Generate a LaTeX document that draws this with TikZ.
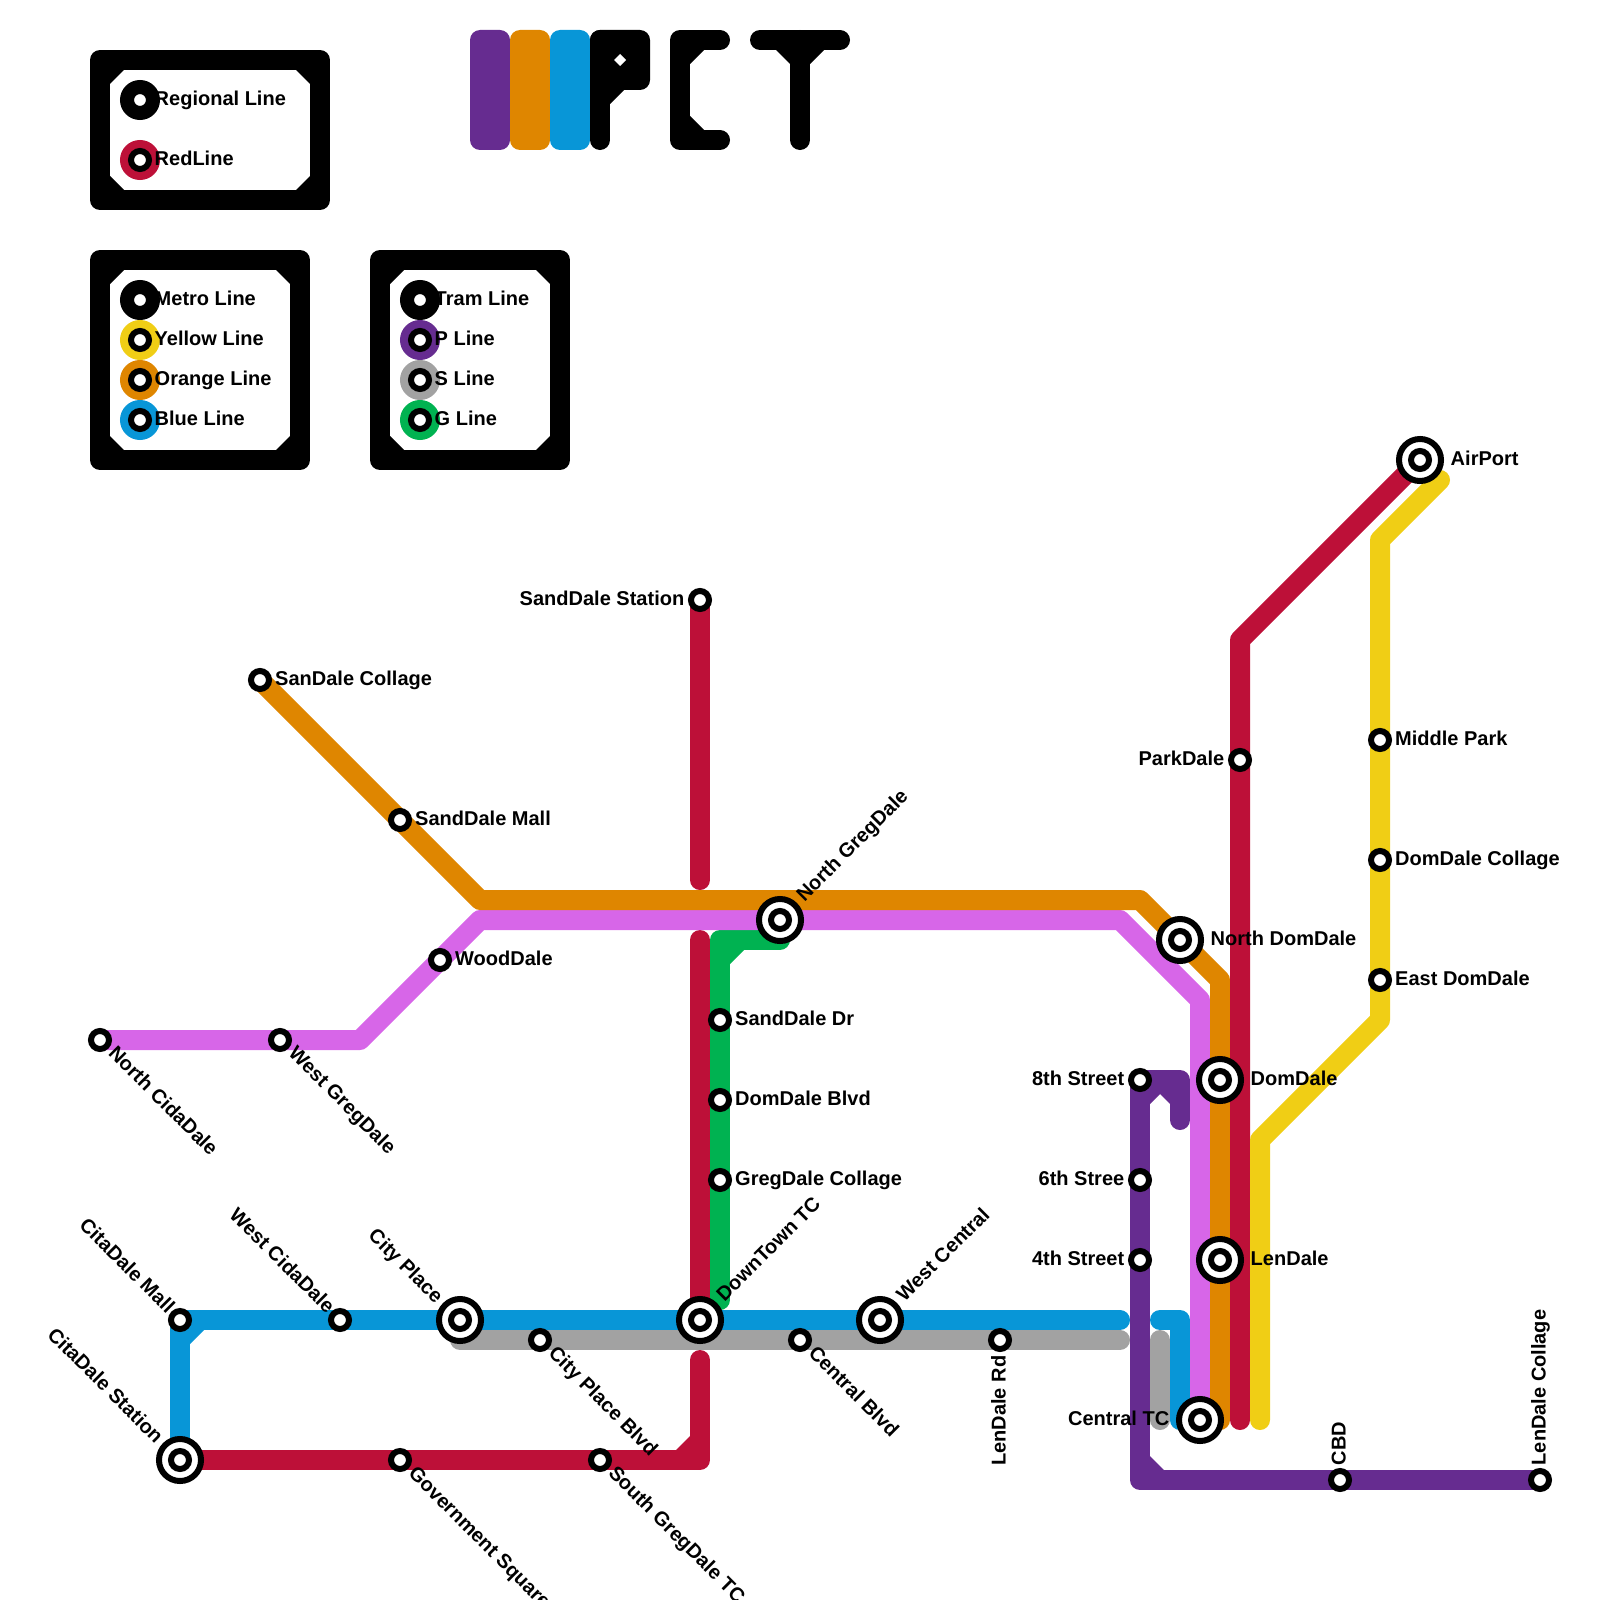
\documentclass[tikz,border=0pt]{standalone}
\usepackage{fontspec}
\setmainfont{Liberation Sans}
\usetikzlibrary{positioning}
\definecolor{Ink}{HTML}{000000}
\definecolor{Purple}{HTML}{662C90}
\definecolor{Orange}{HTML}{DF8600}
\definecolor{Blue}{HTML}{0896D7}
\definecolor{Red}{HTML}{BD1038}
\definecolor{Yellow}{HTML}{F0CE15}
\definecolor{Violet}{HTML}{D766E8}
\definecolor{Grey}{HTML}{A2A2A2}
\definecolor{Green}{HTML}{00B251}
\newcommand{\cham}[5]{\fill[#1] (#2,#3) -- ++(14*#4,0) -- ++(-14*#4,14*#5) -- cycle;}
\begin{document}
\begin{tikzpicture}[x=0.01cm,y=-0.01cm,
          route/.style={line width=0.2cm,line join=round,line cap=round},
          stn/.style={circle,draw=Ink,fill=white,line width=0.06cm,minimum size=0.18cm,inner sep=0pt},
          hub/.style={circle,draw=Ink,fill=white,line width=0.06cm,minimum size=0.42cm,inner sep=0pt},
          disc/.style={circle,minimum size=0.4cm,inner sep=0pt},
          lbl/.style={font=\fontsize{5.69pt}{6pt}\selectfont\bfseries,inner sep=0pt,text=Ink},
          lblE/.style={lbl,anchor=base west,xshift=0.145cm,yshift=-0.05cm},
          hubE/.style={lbl,anchor=base west,xshift=0.3cm,yshift=-0.05cm},
          lblW/.style={lbl,anchor=base east,xshift=-0.15cm,yshift=-0.05cm},
          hubW/.style={lbl,anchor=base east,xshift=-0.3cm,yshift=-0.05cm},
          hubNE/.style={lbl,anchor=base west,xshift=0.24cm,yshift=0.17cm,rotate=45},
          lblSE/.style={lbl,anchor=base west,xshift=0.07cm,yshift=-0.14cm,rotate=-45},
          lblNW/.style={lbl,anchor=base east,xshift=-0.13cm,yshift=0.05cm,rotate=-45},
          hubNW/.style={lbl,anchor=base east,xshift=-0.245cm,yshift=0.15cm,rotate=-45},
          lblUp/.style={lbl,anchor=base west,xshift=0.055cm,yshift=0.14cm,rotate=90},
          lblDn/.style={lbl,anchor=base east,xshift=0.055cm,yshift=-0.15cm,rotate=90}]
        \useasboundingbox (0,0) rectangle (1600,1600);
        % legend frames
        \draw[route,Ink,line cap=butt] (100,60) rectangle (320,200);
        \draw[route,Ink,line cap=butt] (100,260) rectangle (300,460);
        \draw[route,Ink,line cap=butt] (380,260) rectangle (560,460);
        \foreach \xa/\ya/\xb/\yb in {110/70/310/190,110/270/290/450,390/270/550/450} {
          \cham{Ink}{\xa}{\ya}{1}{1} \cham{Ink}{\xb}{\ya}{-1}{1}
          \cham{Ink}{\xa}{\yb}{1}{-1} \cham{Ink}{\xb}{\yb}{-1}{-1}
        }
        \foreach \name/\col/\px/\py/\word in {
            keyRegional/Ink/140/100/Regional Line,keyRed/Red/140/160/RedLine,
            keyMetro/Ink/140/300/Metro Line,keyYellow/Yellow/140/340/Yellow Line,
            keyOrange/Orange/140/380/Orange Line,keyBlue/Blue/140/420/Blue Line,
            keyTram/Ink/420/300/Tram Line,keyP/Purple/420/340/P Line,
            keyS/Grey/420/380/S Line,keyG/Green/420/420/G Line} {
          \node[disc,fill=\col] (\name) at (\px,\py) {};
          \node[stn] (\name-in) at (\name) {};
          \node[lbl,anchor=base west,xshift=0.14cm,yshift=-0.05cm] (\name-txt) at (\name) {\word};
        }
        % logo
        \fill[Purple,rounded corners=0.1cm] (470,30) rectangle (510,150);
        \fill[Orange,rounded corners=0.1cm] (510,30) rectangle (550,150);
        \fill[Blue,rounded corners=0.1cm] (550,30) rectangle (590,150);
        \fill[Ink,rounded corners=0.1cm] (590,30) rectangle (650,90);
        \draw[route,Ink] (600,40) -- (600,140);
        \cham{Ink}{610}{90}{1}{1}
        \fill[white] (620,54) -- (626,60) -- (620,66) -- (614,60) -- cycle;
        \draw[route,Ink] (720,40) -- (680,40) -- (680,140) -- (720,140);
        \cham{Ink}{690}{50}{1}{1}
        \cham{Ink}{690}{130}{1}{-1}
        \draw[route,Ink] (760,40) -- (840,40);
        \draw[route,Ink] (800,40) -- (800,140);
        \cham{Ink}{790}{50}{-1}{1}
        \cham{Ink}{810}{50}{1}{1}
        % lines
        \draw[route,Green] (720,1300) -- (720,940) -- (780,940);
        \cham{Green}{730}{950}{1}{1}
        \draw[route,Red] (700,600) -- (700,880);
        \draw[route,Red] (700,940) -- (700,1320);
        \draw[route,Red] (700,1360) -- (700,1460) -- (180,1460);
        \cham{Red}{690}{1450}{-1}{-1}
        \draw[route,Grey] (460,1340) -- (1120,1340);
        \draw[route,Blue] (180,1460) -- (180,1320) -- (1120,1320);
        \cham{Blue}{190}{1330}{1}{1}
        \draw[route,Blue] (1160,1320) -- (1180,1320) -- (1180,1420);
        \draw[route,Grey] (1160,1340) -- (1160,1420);
        \draw[route,Violet] (100,1040) -- (360,1040) -- (480,920) -- (1120,920) -- (1200,1000) -- (1200,1420);
        \draw[route,Orange] (260,680) -- (480,900) -- (1140,900) -- (1220,980) -- (1220,1420);
        \draw[route,Red] (1240,1420) -- (1240,640) -- (1420,460);
        \draw[route,Yellow] (1260,1420) -- (1260,1140) -- (1380,1020) -- (1380,540) -- (1440,480);
        \draw[route,Purple] (1180,1120) -- (1180,1080) -- (1140,1080) -- (1140,1480) -- (1540,1480);
        \cham{Purple}{1150}{1090}{1}{1}
        \cham{Purple}{1170}{1090}{-1}{1}
        \cham{Purple}{1150}{1470}{1}{-1}
        % interchanges
        \foreach \name/\px/\py in {citaStation/180/1460,cityPlace/460/1320,downTown/700/1320,
            westCentral/880/1320,northGreg/780/920,northDom/1180/940,domDale/1220/1080,
            lenDale/1220/1260,centralTC/1200/1420,airPort/1420/460} {
          \node[hub] (\name) at (\px,\py) {};
          \node[stn] (\name-in) at (\name) {};
        }
        % stops
        \foreach \name/\px/\py in {citaMall/180/1320,westCida/340/1320,cityBlvd/540/1340,
            centralBlvd/800/1340,lenRd/1000/1340,govSquare/400/1460,southGreg/600/1460,
            sandStation/700/600,sanCollage/260/680,sandMall/400/820,woodDale/440/960,
            northCida/100/1040,westGreg/280/1040,sandDr/720/1020,domBlvd/720/1100,
            gregCollage/720/1180,parkDale/1240/760,middlePark/1380/740,domCollage/1380/860,
            eastDom/1380/980,street8/1140/1080,street6/1140/1180,street4/1140/1260,
            cbd/1340/1480,lenCollage/1540/1480} {
          \node[stn] (\name) at (\px,\py) {};
        }
        % station names
        \node[hubNW] (citaStationLbl) at (citaStation) {CitaDale Station};
        \node[hubNW] (cityPlaceLbl) at (cityPlace) {City Place};
        \node[hubNE] (downTownLbl) at (downTown) {DownTown TC};
        \node[hubNE] (westCentralLbl) at (westCentral) {West Central};
        \node[hubNE] (northGregLbl) at (northGreg) {North GregDale};
        \node[hubE] (northDomLbl) at (northDom) {North DomDale};
        \node[hubE] (domDaleLbl) at (domDale) {DomDale};
        \node[hubE] (lenDaleLbl) at (lenDale) {LenDale};
        \node[hubW] (centralTCLbl) at (centralTC) {Central TC};
        \node[hubE] (airPortLbl) at (airPort) {AirPort};
        \node[lblNW] (citaMallLbl) at (citaMall) {CitaDale Mall};
        \node[lblNW] (westCidaLbl) at (westCida) {West CidaDale};
        \node[lblSE] (cityBlvdLbl) at (cityBlvd) {City Place Blvd};
        \node[lblSE] (centralBlvdLbl) at (centralBlvd) {Central Blvd};
        \node[lblDn] (lenRdLbl) at (lenRd) {LenDale Rd};
        \node[lblSE] (govSquareLbl) at (govSquare) {Government Square};
        \node[lblSE] (southGregLbl) at (southGreg) {South GregDale TC};
        \node[lblW] (sandStationLbl) at (sandStation) {SandDale Station};
        \node[lblE] (sanCollageLbl) at (sanCollage) {SanDale Collage};
        \node[lblE] (sandMallLbl) at (sandMall) {SandDale Mall};
        \node[lblE] (woodDaleLbl) at (woodDale) {WoodDale};
        \node[lblSE] (northCidaLbl) at (northCida) {North CidaDale};
        \node[lblSE] (westGregLbl) at (westGreg) {West GregDale};
        \node[lblE] (sandDrLbl) at (sandDr) {SandDale Dr};
        \node[lblE] (domBlvdLbl) at (domBlvd) {DomDale Blvd};
        \node[lblE] (gregCollageLbl) at (gregCollage) {GregDale Collage};
        \node[lblW] (parkDaleLbl) at (parkDale) {ParkDale};
        \node[lblE] (middleParkLbl) at (middlePark) {Middle Park};
        \node[lblE] (domCollageLbl) at (domCollage) {DomDale Collage};
        \node[lblE] (eastDomLbl) at (eastDom) {East DomDale};
        \node[lblW] (street8Lbl) at (street8) {8th Street};
        \node[lblW] (street6Lbl) at (street6) {6th Stree};
        \node[lblW] (street4Lbl) at (street4) {4th Street};
        \node[lblUp] (cbdLbl) at (cbd) {CBD};
        \node[lblUp] (lenCollageLbl) at (lenCollage) {LenDale Collage};
      \end{tikzpicture}
\end{document}
